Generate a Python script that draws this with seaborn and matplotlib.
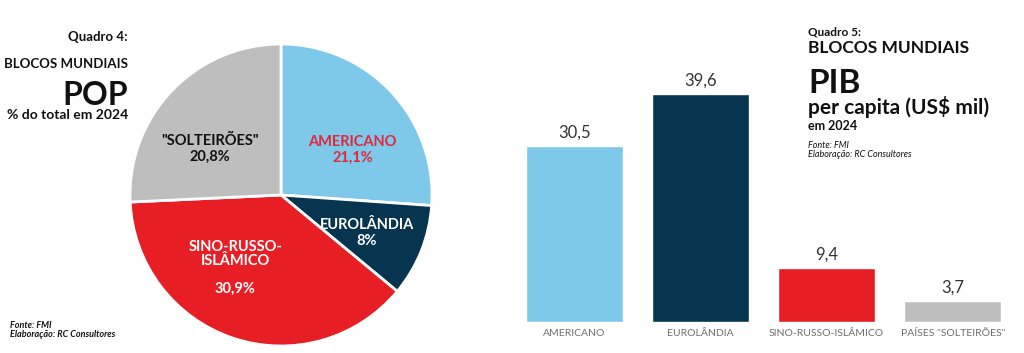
import numpy as np
import pandas as pd
import seaborn as sns
import matplotlib
matplotlib.use("Agg")
from matplotlib import pyplot as plt

# dados
blocos = ["AMERICANO", "EUROLÂNDIA", "SINO-RUSSO-ISLÂMICO", "PAÍSES \"SOLTEIRÕES\""]
pop_rotulos = ["AMERICANO", "EUROLÂNDIA", "SINO-RUSSO-\nISLÂMICO", "\"SOLTEIRÕES\""]
pop_pct = [21.1, 8.0, 30.9, 20.8]
pop_txt = ["21,1%", "8%", "30,9%", "20,8%"]
pib = [30.5, 39.6, 9.4, 3.7]
pib_txt = ["30,5", "39,6", "9,4", "3,7"]
cores = ["#7ec8e9", "#07344f", "#e81e25", "#bebebe"]
cor_rotulo = ["#e0283c", "white", "white", "#111111"]
# posição dos rótulos dentro da pizza: (ângulo em graus, raio)
rot_pos = [(32, 0.56), (-24, 0.62), (-122, 0.57), (147, 0.56)]

sns.set_theme(style="white")
plt.rcParams['font.family'] = ['Lato', 'DejaVu Sans']

W, H = 1024, 353
fig = plt.figure(figsize=(W / 100, H / 100), dpi=100)

# ---- pizza (Quadro 4)
axp = fig.add_axes([130 / W, 1 - 346 / H, 302 / W, 302 / H])
wedges, _ = axp.pie(pop_pct, colors=cores, startangle=90, counterclock=False,
                    wedgeprops=dict(edgecolor="white", linewidth=2))
axp.set_xlim(-1.0, 1.0)
axp.set_ylim(-1.0, 1.0)
axp.set_aspect("equal")
for (a, r), lab, pct, c in zip(rot_pos, pop_rotulos, pop_txt, cor_rotulo):
    ang = np.deg2rad(a)
    if "ISL" in lab:
        s, ls = lab + "\n\n" + pct, 1.0
    else:
        s, ls = lab + "\n" + pct, 1.2
    axp.text(r * np.cos(ang), r * np.sin(ang), s, ha="center", va="center",
             color=c, fontsize=10.5, fontweight="bold", linespacing=ls)

def t(x, y, s, size, ha="left", **kw):
    fig.text(x / W, 1 - y / H, s, ha=ha, va="baseline", fontsize=size, color="#111111", **kw)

t(128, 41, "Quadro 4:", 9.5, ha="right", fontweight="bold")
t(128, 68, "BLOCOS MUNDIAIS", 9.5, ha="right", fontweight="bold")
t(128, 105, "POP", 23, ha="right", fontweight="bold")
t(128, 119, "% do total em 2024", 10, ha="right", fontweight="bold")
t(10, 328, "Fonte: FMI", 6.5, style="italic", fontweight="bold")
t(10, 337, "Elaboração: RC Consultores", 6.5, style="italic", fontweight="bold")

# ---- barras (Quadro 5)
df = pd.DataFrame({"bloco": blocos, "pib": pib})
axb = fig.add_axes([511 / W, 1 - 322 / H, 505 / W, 322 / H])
sns.barplot(data=df, x="bloco", y="pib", hue="bloco", palette=cores, legend=False,
            width=0.77, saturation=1, ax=axb)
axb.set_xlim(-0.5, 3.5)
axb.set_ylim(0, 55.9)
for cont, s in zip(axb.containers, pib_txt):
    axb.bar_label(cont, labels=[s], padding=4, fontsize=12, color="#333333")
axb.set_xlabel("")
axb.set_ylabel("")
axb.set_yticks([])
axb.tick_params(axis="x", length=0, pad=5, labelsize=7.5, labelcolor="#6e6e6e")
sns.despine(ax=axb, left=True, bottom=True)

t(808, 35.5, "Quadro 5:", 8.5, fontweight="bold")
t(808, 53, "BLOCOS MUNDIAIS", 12.5, fontweight="bold")
t(808, 93, "PIB", 24, fontweight="bold")
t(808, 114, "per capita (US$ mil)", 15, fontweight="bold")
t(808, 130, "em 2024", 9, fontweight="bold")
t(808, 148, "Fonte: FMI", 6.5, style="italic")
t(808, 157, "Elaboração: RC Consultores", 6.5, style="italic")

fig.savefig("out.png", dpi=100, facecolor="white")
